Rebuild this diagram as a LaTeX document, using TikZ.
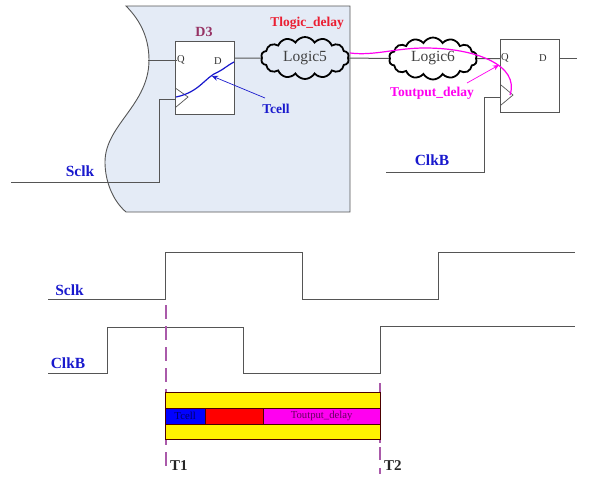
\documentclass[tikz,border=0pt]{standalone}
\usepackage{fontspec}
\setmainfont{Liberation Serif}
\usetikzlibrary{shapes.symbols,arrows.meta}
\definecolor{panel}{RGB}{228,235,246}
\definecolor{wire}{RGB}{85,85,85}
\definecolor{dlabel}{RGB}{150,50,100}
\definecolor{dashc}{RGB}{170,90,170}
\definecolor{clkblue}{RGB}{25,25,205}
\definecolor{tred}{RGB}{235,30,50}
\definecolor{mag}{RGB}{255,0,240}
\tikzset{
  wireline/.style={draw=wire,line width=1pt},
  ffbox/.style={draw=wire,fill=white,line width=1pt,minimum width=58.5pt,minimum height=73pt,inner sep=0pt},
  cloudnode/.style={cloud,cloud puffs=14,cloud puff arc=120,aspect=2.4,draw=black,line width=1.8pt,inner sep=0pt,minimum width=88pt,minimum height=42pt,font=\fontsize{15.5}{15.5}\selectfont,text=black!75},
  pin/.style={font=\fontsize{10.5}{10.5}\selectfont,text=black!80,inner sep=0pt},
  bluelabel/.style={font=\bfseries\fontsize{15.5}{15.5}\selectfont,text=clkblue,inner sep=0pt},
  dashline/.style={draw=dashc,line width=1.6pt,dash pattern=on 13.5pt off 7.5pt},
  tlabel/.style={font=\bfseries\fontsize{15}{15}\selectfont,text=black!85,inner sep=0pt},
  barbox/.style={draw=black!70!red,line width=0.7pt,inner sep=0pt},
  smalllabel/.style={font=\bfseries\fontsize{13.5}{13.5}\selectfont,inner sep=0pt},
  barlabel/.style={font=\fontsize{10.7}{10.7}\selectfont}
}
\begin{document}
\begin{tikzpicture}[x=1pt,y=-1pt]
\useasboundingbox (0,0) rectangle (597,480);
% panel
\draw[draw=wire,fill=panel,line width=0.9pt] (126,6) -- (350,6) -- (350,212) -- (126,212)
  .. controls (112,200) and (105,180) .. (105,162)
  .. controls (105,125) and (149,105) .. (149,60)
  .. controls (149,35) and (138,18) .. (126,6) -- cycle;
% D3 flip-flop
\node[ffbox] (ffa) at (205,77.5) {};
\node[pin,anchor=west] (qa) at (177,60) {Q};
\node[pin] (da) at (218,61) {D};
\node[font=\bfseries\fontsize{14}{14}\selectfont,text=dlabel,inner sep=0pt] (d3) at (204,32) {D3};
\coordinate (clkat) at (176,88.5);
\coordinate (clkau) at (176,107);
\coordinate (clkan) at (188,97);
\draw[wireline,line width=0.7pt] (clkat) -- (clkan) -- (clkau);
% second flip-flop
\node[ffbox] (ffb) at (530,75.5) {};
\node[pin,anchor=west] (qb) at (501,58) {Q};
\node[pin] (db) at (543,58.5) {D};
\coordinate (clkbt) at (501,85);
\coordinate (clkbu) at (501,105);
\coordinate (clkbn) at (513,95);
\draw[wireline,line width=0.7pt] (clkbt) -- (clkbn) -- (clkbu);
% clouds
\node[cloudnode,fill=panel] (l5) at (305,58) {Logic5};
\node[cloudnode,fill=white] (l6) at (433,58.5) {Logic6};
% wires
\coordinate (qleft) at (148,60);
\coordinate (sclkin) at (11,182);
\coordinate (sclkm) at (159,182);
\coordinate (sclkt) at (159,99);
\coordinate (clkbin) at (386,172);
\coordinate (clkbm) at (484,172);
\coordinate (clkbk) at (484,97);
\coordinate (dout) at (577,58);
\draw[wireline] (qleft) -- (qa.west);
\draw[wireline] (ffa.east |- l5) -- (l5.west);
\draw[wireline] (l5.east) -- (l6.west);
\draw[wireline] (l6.east) -- (ffb.west |- l6);
\draw[wireline] (sclkin) -- (sclkm) -- (sclkt) -- (176,99);
\draw[wireline] (clkbin) -- (clkbm) -- (clkbk) -- (501,97);
\draw[wireline] (ffb.east |- dout) -- (dout);
% tcell curve
\coordinate (cva) at (176,97);
\coordinate (cvb) at (234,62);
\draw[draw=clkblue,line width=1.2pt] (cva) .. controls (200,92) and (205,77) .. (218,72) .. controls (224,69) and (228,65) .. (cvb);
\node[smalllabel,text=clkblue] (tcell) at (276,108.5) {Tcell};
\draw[draw=clkblue,line width=0.7pt,-{Stealth[length=6pt,width=5pt]}] (265,98) -- (212,76);
\node[smalllabel,text=tred] (tlogic) at (307,23) {Tlogic\_delay};
% toutput
\coordinate (ma) at (350,53);
\draw[draw=mag,line width=1.2pt] (ma) .. controls (375,56) and (395,48) .. (425,48) .. controls (475,48) and (520,65) .. (510,95);
\node[smalllabel,text=mag] (tout) at (432,93) {Toutput\_delay};
\draw[draw=mag,line width=0.7pt,-{Stealth[length=6pt,width=5pt]}] (467,83) -- (499,65);
\node[bluelabel] (clkbl) at (432,160) {ClkB};
\node[bluelabel] (sclkl) at (80,171) {Sclk};
% waveforms
\coordinate (sa) at (48,299);
\draw[wireline] (sa) -- (165.5,299) -- (165.5,252) -- (302,252) -- (302,299) -- (438,299) -- (438,252) -- (575,252);
\coordinate (cka) at (48,373.3);
\draw[wireline] (cka) -- (107,373.3) -- (107,327) -- (243,327) -- (243,373.3) -- (380,373.3) -- (380,326) -- (575,326);
\node[bluelabel] (wsclk) at (69.5,290) {Sclk};
\node[bluelabel] (wclkb) at (68,363) {ClkB};
% dashed markers
\coordinate (dat) at (166.2,305);
\coordinate (dab) at (166.2,471);
\coordinate (dbt) at (380,383);
\coordinate (dbb) at (380,474);
\draw[dashline] (dat) -- (dab);
\draw[dashline,dash pattern=on 60pt off 4pt on 13pt off 8pt] (dbt) -- (dbb);
% bars
\node[barbox,fill=yellow,anchor=north west,minimum width=214.5pt,minimum height=47pt] (ybar) at (165,392) {};
\node[barbox,fill=blue,anchor=north west,minimum width=39.5pt,minimum height=15.5pt,barlabel,text=black!60!blue] (bb) at (165,408) {Tcell};
\node[barbox,fill=red,anchor=north west,minimum width=58.5pt,minimum height=15.5pt] (rb) at (204.5,408) {};
\node[barbox,fill=mag,anchor=north west,minimum width=116.5pt,minimum height=15.5pt,barlabel,text=black!60!mag] (mb) at (263,408) {Toutput\_delay};
\node[tlabel,anchor=west] (t1) at (170,466) {T1};
\node[tlabel,anchor=west] (t2) at (384,466) {T2};
\end{tikzpicture}
\end{document}
